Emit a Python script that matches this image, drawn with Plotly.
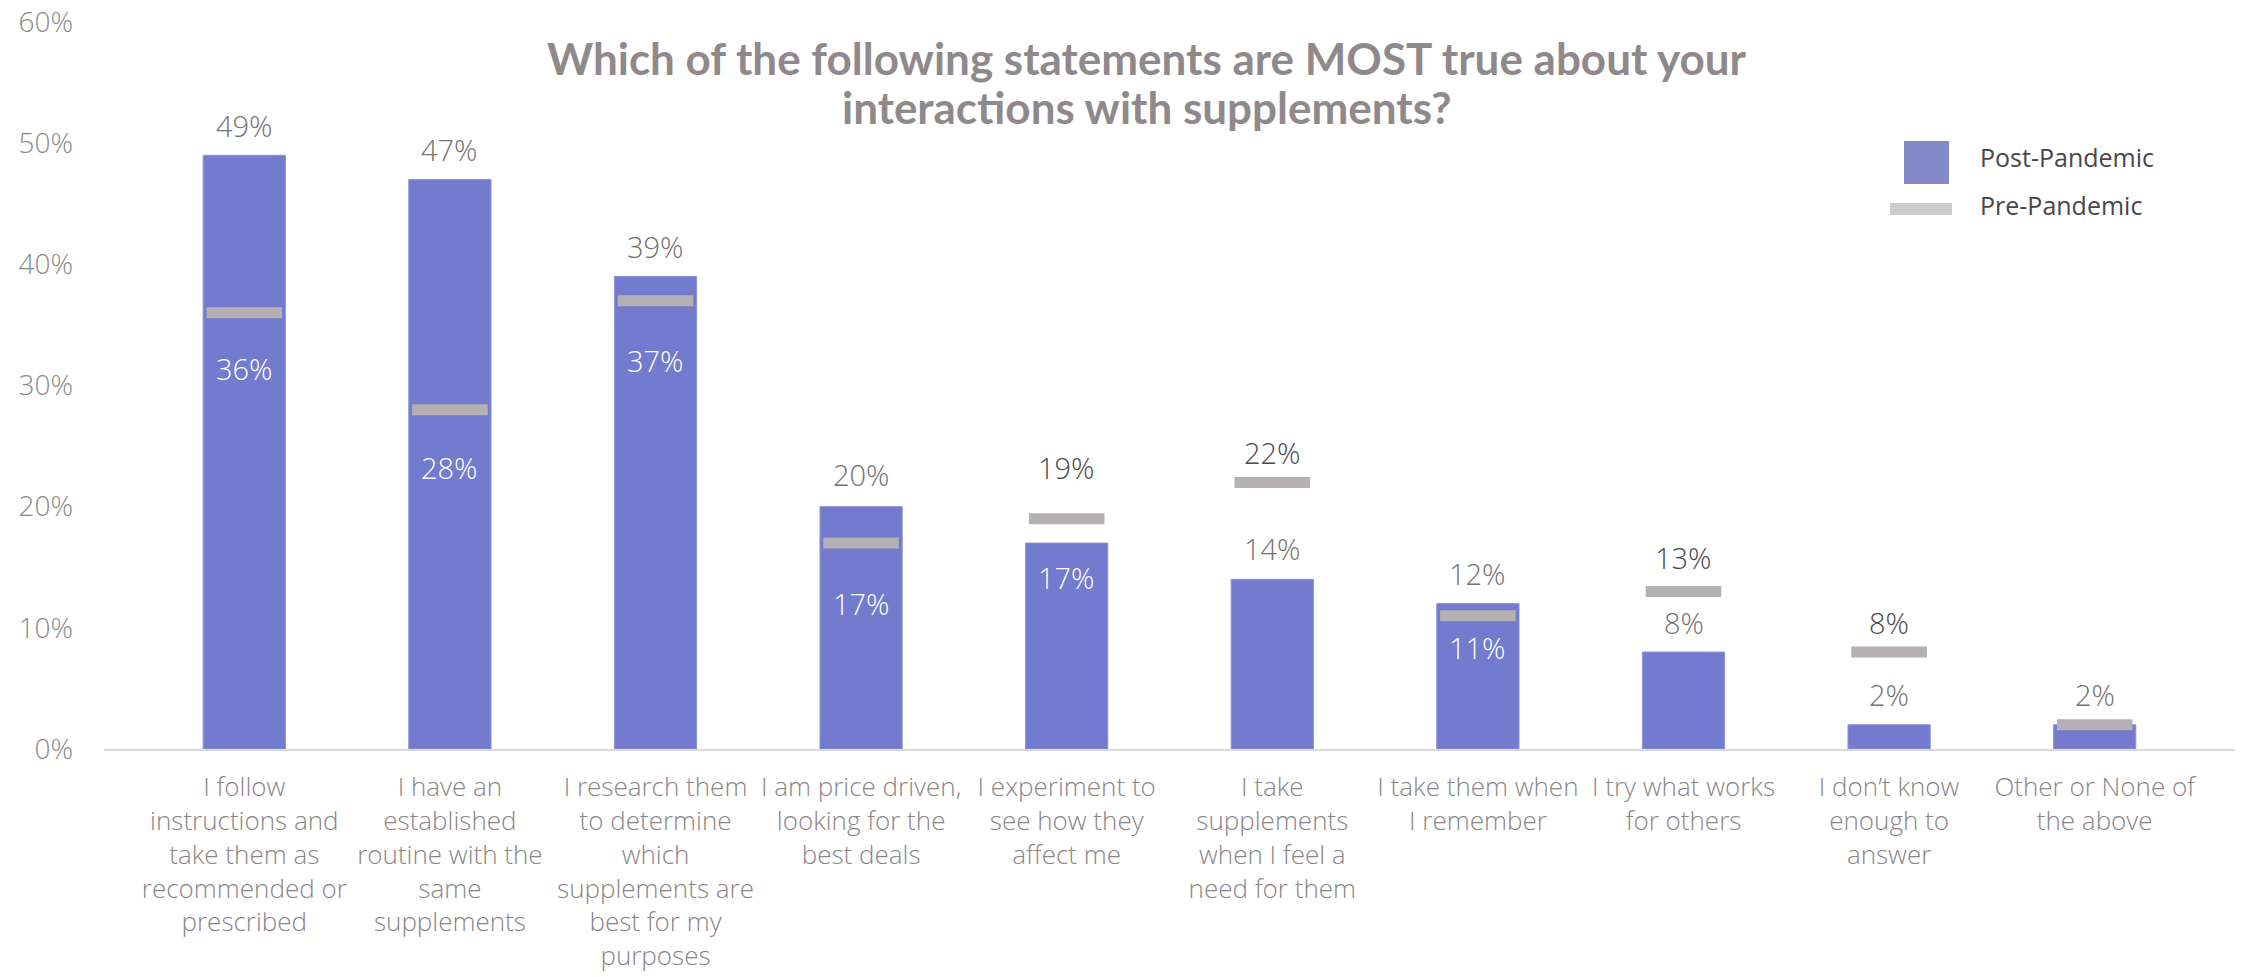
import plotly.graph_objects as go

# Survey categories (line breaks as drawn under the axis)
categories = [
    "I follow<br>instructions and<br>take them as<br>recommended or<br>prescribed",
    "I have an<br>established<br>routine with the<br>same<br>supplements",
    "I research them<br>to determine<br>which<br>supplements are<br>best for my<br>purposes",
    "I am price driven,<br>looking for the<br>best deals",
    "I experiment to<br>see how they<br>affect me",
    "I take<br>supplements<br>when I feel a<br>need for them",
    "I take them when<br>I remember",
    "I try what works<br>for others",
    "I don’t know<br>enough to<br>answer",
    "Other or None of<br>the above",
]
post_pandemic = [49, 47, 39, 20, 17, 14, 12, 8, 2, 2]
pre_pandemic = [36, 28, 37, 17, 19, 22, 11, 13, 8, 2]

title_lines = [
    "Which of the following statements are MOST true about your",
    "interactions with supplements?",
]

# Label placement (pixel shift from the value; negative = below, drawn white)
post_label_shift = [30, 30, 30, 32, -34, 31, 30, 30, 30, 30]
pre_label_shift = [-56, -58, -60, -60, 51, 30, -32, 34, 30, None]

BAR_COLOR = "#727bcd"
LEGEND_BAR_COLOR = "#8489c9"
PRE_COLOR = "#b4b0b3"
LEGEND_PRE_COLOR = "#cccccc"
POST_LABEL_COLOR = "#767172"
PRE_LABEL_COLOR = "#4d494a"
AXIS_TEXT = "#8a8587"
FONT = "Open Sans"

W, H = 2267, 977
L, R, T, B = 104, 32, 22, 228
PW, PH = W - L - R, H - T - B


def px_x(x):
    return (x - L) / PW


def px_y(y):
    return (H - B - y) / PH


fig = go.Figure()

fig.add_trace(go.Bar(
    x=categories, y=post_pandemic, name="Post-Pandemic",
    marker=dict(color=BAR_COLOR, line=dict(color="#8c93d8", width=1)),
    hoverinfo="y",
))

fig.add_trace(go.Scatter(
    x=categories, y=pre_pandemic, name="Pre-Pandemic", mode="markers",
    marker=dict(symbol="line-ew", size=54, color=PRE_COLOR,
                line=dict(color=PRE_COLOR, width=11)),
    hoverinfo="y",
))

annotations = []
for cat, v, s in zip(categories, post_pandemic, post_label_shift):
    annotations.append(dict(
        x=cat, y=v, yshift=s, text=f"{v}%", showarrow=False,
        xref="x", yref="y", yanchor="middle",
        font=dict(family=FONT, size=29, weight=300,
                  color="#ffffff" if s < 0 else POST_LABEL_COLOR),
    ))
for cat, v, s in zip(categories, pre_pandemic, pre_label_shift):
    if s is None:
        continue
    annotations.append(dict(
        x=cat, y=v, yshift=s, text=f"{v}%", showarrow=False,
        xref="x", yref="y", yanchor="middle",
        font=dict(family=FONT, size=29, weight=300,
                  color="#ffffff" if s < 0 else PRE_LABEL_COLOR),
    ))

# Title, one annotation per line
for line, ypx in zip(title_lines, [58, 107]):
    annotations.append(dict(
        x=px_x(1147), y=px_y(ypx), xref="paper", yref="paper",
        xanchor="center", yanchor="middle", showarrow=False,
        text=line,
        font=dict(family="Lato", size=44, weight=700, color="#8f898c"),
    ))

# Legend
annotations.append(dict(
    x=px_x(1978), y=px_y(157), xref="paper", yref="paper",
    xanchor="left", yanchor="middle", showarrow=False,
    text="Post-Pandemic", font=dict(family=FONT, size=25, color="#4a4647"),
))
annotations.append(dict(
    x=px_x(1978), y=px_y(205), xref="paper", yref="paper",
    xanchor="left", yanchor="middle", showarrow=False,
    text="Pre-Pandemic", font=dict(family=FONT, size=25, color="#4a4647"),
))
shapes = [
    dict(type="rect", xref="paper", yref="paper",
         x0=px_x(1904), x1=px_x(1949), y0=px_y(184), y1=px_y(141),
         fillcolor=LEGEND_BAR_COLOR, line=dict(width=0)),
    dict(type="rect", xref="paper", yref="paper",
         x0=px_x(1890), x1=px_x(1952), y0=px_y(215), y1=px_y(203),
         fillcolor=LEGEND_PRE_COLOR, line=dict(width=0)),
]

fig.update_layout(
    width=W, height=H,
    margin=dict(l=L, r=R, t=T, b=B, pad=0),
    paper_bgcolor="white", plot_bgcolor="white",
    showlegend=False,
    bargap=0.6,
    annotations=annotations,
    shapes=shapes,
    font=dict(family=FONT),
)
fig.update_xaxes(
    automargin=False,
    showline=True, linecolor="#d9d9d9", linewidth=2,
    showgrid=False, ticks="",
    tickfont=dict(family=FONT, size=26, weight=300, color=AXIS_TEXT),
    tickangle=0,
    ticklabelstandoff=14,
)
fig.update_yaxes(
    automargin=False,
    range=[0, 60], dtick=10, ticksuffix="%",
    showgrid=False, zeroline=False, showline=False,
    tickfont=dict(family=FONT, size=28, weight=300, color="#8b8b8b"),
    ticklabelstandoff=30,
)

fig.write_html("out.html")
